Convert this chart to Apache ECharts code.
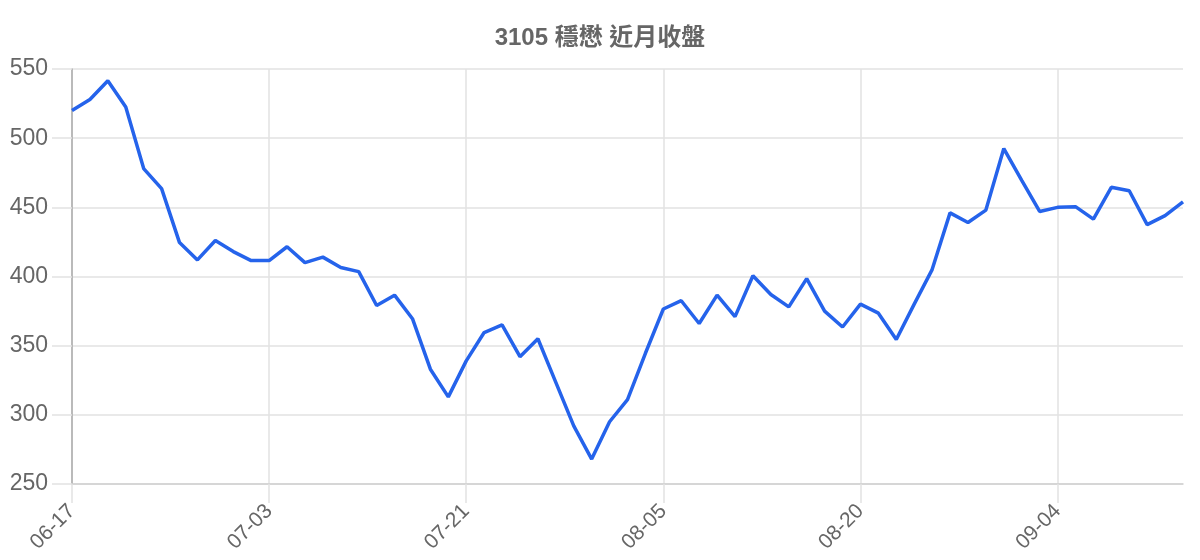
<!DOCTYPE html>
<html>
<head>
<meta charset="utf-8">
<script src="https://cdn.jsdelivr.net/npm/echarts@6/dist/echarts.min.js"></script>
<style>
  html, body { margin: 0; padding: 0; background: #fff; }
  #chart { width: 1200px; height: 560px; }
</style>
</head>
<body>
<div id="chart"></div>
<script>
// 交易日 (每 11 筆顯示一個標籤)
const dates = [
  '06-17', '06-18', '06-19', '06-23', '06-24', '06-25', '06-26', '06-27', '06-30', '07-01', '07-02',
  '07-03', '07-04', '07-08', '07-09', '07-10', '07-11', '07-14', '07-15', '07-16', '07-17', '07-18',
  '07-21', '07-22', '07-23', '07-24', '07-25', '07-28', '07-29', '07-30', '07-31', '08-01', '08-04',
  '08-05', '08-06', '08-07', '08-08', '08-11', '08-12', '08-13', '08-14', '08-15', '08-18', '08-19',
  '08-20', '08-21', '08-22', '08-25', '08-26', '08-27', '08-28', '08-29', '09-01', '09-02', '09-03',
  '09-04', '09-05', '09-08', '09-09', '09-10', '09-11', '09-12', '09-15'
];

// 收盤價
const closes = [
  520, 528, 541.5, 522.5, 478, 463.5, 424.5, 412, 426, 418, 411.5,
  411.5, 421.5, 410, 414, 406.5, 403.5, 379, 386.5, 369.5, 333, 313,
  339, 359.5, 365, 342, 355, 323.5, 292, 268, 295, 311, 344.5,
  376.5, 382.5, 366, 386.5, 371, 400.5, 387, 378, 398.5, 375, 363.5,
  380, 373.5, 354.5, 380, 405, 446, 439, 448, 492.5, 469.5, 447,
  450, 450.5, 441.5, 464.5, 462, 437.5, 444, 454
];

const yTicks = { min: 250, max: 550, step: 50 };

const chart = echarts.init(document.getElementById('chart'), null, { renderer: 'canvas' });

const option = {
  animation: false,
  backgroundColor: '#fff',
  title: {
    text: '3105 穩懋 近月收盤',
    left: 'center',
    top: 21,
    textStyle: {
      fontFamily: '"Liberation Sans", "Noto Sans CJK TC", sans-serif',
      fontSize: 24,
      fontWeight: 'bold',
      color: '#666'
    }
  },
  grid: { left: 72, right: 17, top: 69, bottom: 76, containLabel: false },
  xAxis: {
    type: 'category',
    data: dates,
    boundaryGap: false,
    axisLine: { show: true, lineStyle: { color: '#cfcfcf', width: 1.5 } },
    axisTick: { show: true, interval: 10, length: 19, lineStyle: { color: '#e2e2e2', width: 1.5 } },
    axisLabel: {
      interval: 10,
      rotate: 45,
      margin: 24,
      fontFamily: '"Liberation Sans", sans-serif',
      fontSize: 21,
      color: '#666'
    },
    splitLine: { show: true, interval: 10, lineStyle: { color: '#e2e2e2', width: 1.5 } }
  },
  yAxis: {
    type: 'value',
    min: yTicks.min,
    max: yTicks.max,
    interval: yTicks.step,
    axisLine: { show: true, lineStyle: { color: '#aaa', width: 1.5 } },
    axisTick: { show: true, length: 20, lineStyle: { color: '#e2e2e2', width: 1.5 } },
    axisLabel: {
      margin: 24,
      fontFamily: '"Liberation Sans", sans-serif',
      fontSize: 23,
      color: '#666'
    },
    splitLine: { show: true, lineStyle: { color: '#e2e2e2', width: 1.5 } }
  },
  series: [{
    type: 'line',
    data: closes,
    showSymbol: false,
    smooth: false,
    lineStyle: { color: '#2563eb', width: 3.5 },
    itemStyle: { color: '#2563eb' }
  }]
};

chart.setOption(option);
</script>
</body>
</html>
